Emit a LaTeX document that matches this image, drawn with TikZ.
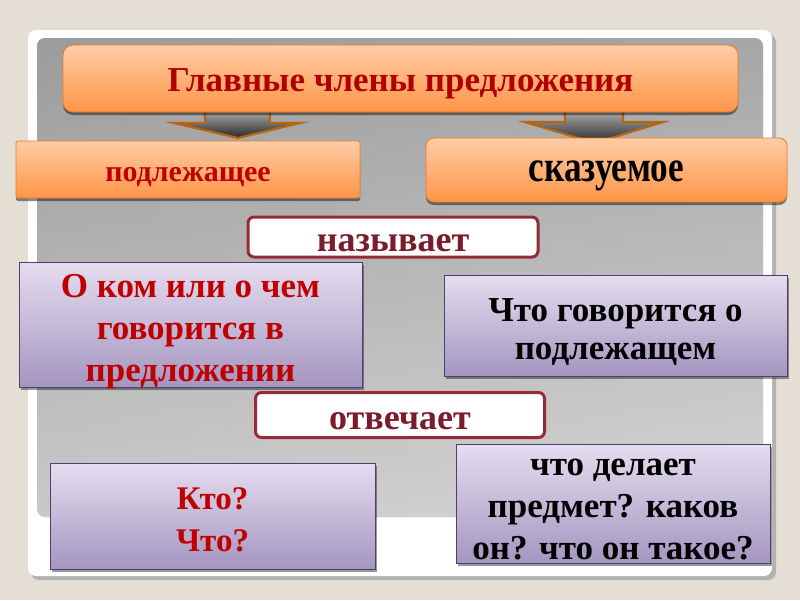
\documentclass[tikz,border=0pt]{standalone}
\usepackage{fontspec}
\setmainfont{Liberation Serif}
\newfontfamily\condf[FakeStretch=0.8]{Liberation Serif}
\usetikzlibrary{shadows}
\definecolor{bgbeige}{HTML}{E4DED4}
\definecolor{ortop}{HTML}{FFCCA6}
\definecolor{orbot}{HTML}{FF9548}
\definecolor{orline}{HTML}{E57E25}
\definecolor{lvtop}{HTML}{E5DDF0}
\definecolor{lvbot}{HTML}{A496C0}
\definecolor{lvline}{HTML}{4E3F6E}
\definecolor{redtxt}{HTML}{C00000}
\definecolor{titletxt}{HTML}{B00000}
\definecolor{wine}{HTML}{962A38}
\definecolor{winetxt}{HTML}{7A1C2A}
\definecolor{arrline}{HTML}{B86510}
\tikzset{
  orbox/.style={top color=ortop, bottom color=orbot, draw=orline, line width=0.8pt,
    drop shadow={shadow xshift=0pt, shadow yshift=-3pt, fill=black, opacity=0.45},
    inner sep=0pt},
  lvbox/.style={top color=lvtop, bottom color=lvbot, draw=lvline, line width=0.8pt,
    drop shadow={shadow xshift=2pt, shadow yshift=-3pt, fill=black, opacity=0.4},
    inner sep=0pt},
  wbox/.style={fill=white, draw=wine, line width=3pt, rounded corners=6pt, inner sep=0pt},
  txt/.style={inner sep=0pt, align=center},
  blockarrow/.style={top color=gray!55, bottom color=black!85, draw=arrline, line width=2.2pt, line join=miter},
}
\begin{document}
\begin{tikzpicture}[x=1pt,y=-1pt]
\useasboundingbox (0,0) rectangle (800,600);
\fill[bgbeige] (0,0) rectangle (800,600);
% white frame with shadow
\fill[black!30, rounded corners=8pt] (31,34) rectangle (776,580);
\fill[white, rounded corners=8pt] (28,30) rectangle (772,576);
% gray panel
\shade[rounded corners=8pt, left color=black!38, middle color=black!8, right color=black!30] (37,38) rectangle (763,517);
\shade[rounded corners=8pt, top color=black!40, bottom color=white, opacity=0.45] (37,38) rectangle (763,517);
% block arrows
\draw[blockarrow] (205,108) -- (270,108) -- (270,123) -- (300,123) -- (238,138) -- (174,123) -- (205,123) -- cycle;
\draw[blockarrow] (565,108) -- (623,108) -- (623,122) -- (663,122) -- (595,143) -- (525,122) -- (565,122) -- cycle;
% title
\node[orbox, rounded corners=10pt, minimum width=675, minimum height=67] (title) at (400.5,78.5) {};
\node[txt, text=titletxt, font=\fontsize{35}{40}\selectfont\bfseries] (titleT) at ([yshift=-5pt]title.center) {Главные члены предложения};
% subject / predicate
\node[orbox, rounded corners=2pt, minimum width=344, minimum height=57] (podl) at (188,169.5) {};
\node[txt, text=redtxt, font=\fontsize{30}{34}\selectfont\bfseries] (podlT) at ([yshift=-8pt]podl.center) {подлежащее};
\node[orbox, rounded corners=8pt, minimum width=361, minimum height=64] (skaz) at (606.5,170) {};
\node[txt, text=black, font=\fontsize{44}{48}\condf\bfseries] (skazT) at ([yshift=-6pt]skaz.center) {сказуемое};
% names
\node[wbox, minimum width=290, minimum height=40] (nazyv) at (393,237) {};
\node[txt, text=winetxt, font=\fontsize{36}{40}\selectfont\bfseries] (nazyvT) at ([yshift=-6pt]nazyv.center) {называет};
\node[lvbox, minimum width=343, minimum height=125] (okom) at (190.5,324.5) {};
\node[txt, text=redtxt, font=\fontsize{35}{42}\selectfont\bfseries] (okomT) at ([yshift=-7pt]okom.center) {О ком или о чем\\говорится в\\предложении};
\node[lvbox, minimum width=343, minimum height=101] (chto) at (615.5,325.5) {};
\node[txt, text=black, font=\fontsize{35}{38}\selectfont\bfseries] (chtoT) at ([yshift=-7pt]chto.center) {Что говорится о\\подлежащем};
% answers
\node[wbox, minimum width=289, minimum height=45] (otvech) at (400,415) {};
\node[txt, text=winetxt, font=\fontsize{36}{40}\selectfont\bfseries] (otvechT) at ([yshift=-6pt]otvech.center) {отвечает};
\node[lvbox, minimum width=325, minimum height=106] (kto) at (212.5,516) {};
\node[txt, text=redtxt, font=\fontsize{33}{42}\selectfont\bfseries] (ktoT) at ([yshift=-4pt]kto.center) {Кто?\\Что?};
\node[lvbox, minimum width=314, minimum height=119] (delaet) at (613,503.5) {};
\node[txt, text=black, font=\fontsize{35}{42}\selectfont\bfseries] (delaetT) at ([yshift=-6pt]delaet.center) {что делает\\предмет? каков\\он? что он такое?};
\end{tikzpicture}
\end{document}
